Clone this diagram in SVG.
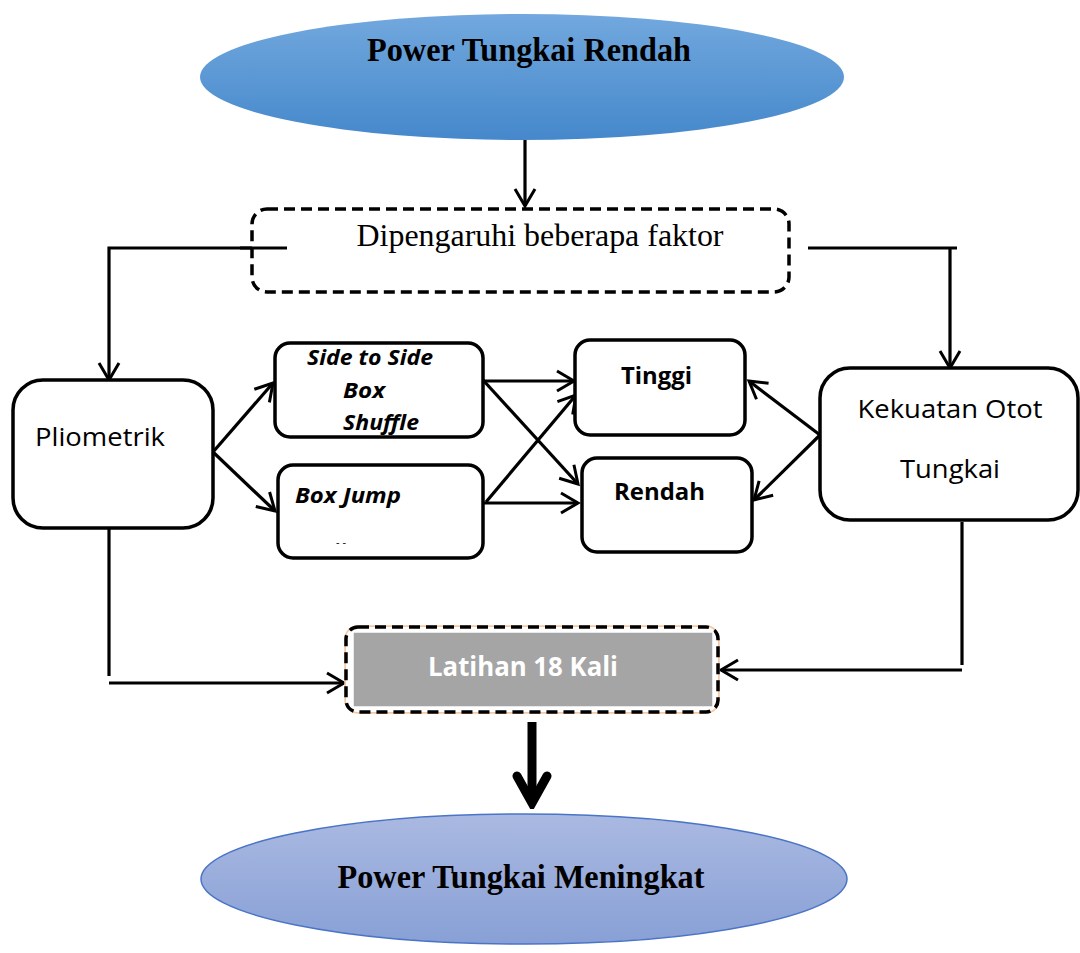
<svg xmlns="http://www.w3.org/2000/svg" width="1080" height="953" viewBox="0 0 1080 953">
<defs>
<linearGradient id="gTop" x1="0" y1="0" x2="0" y2="1">
<stop offset="0" stop-color="#72a8de"/>
<stop offset="1" stop-color="#4588cb"/>
</linearGradient>
<linearGradient id="gBot" x1="0" y1="0" x2="0" y2="1">
<stop offset="0" stop-color="#aab9e1"/>
<stop offset="1" stop-color="#88a0d6"/>
</linearGradient>
<marker id="v" viewBox="-22 -14 26 28" markerWidth="26" markerHeight="28" refX="0" refY="0" orient="auto" markerUnits="userSpaceOnUse">
<path d="M-17,-10 L0,0 L-17,10" fill="none" stroke="#000" stroke-width="3"/>
</marker>
<marker id="vt" viewBox="-40 -22 46 44" markerWidth="46" markerHeight="44" refX="0" refY="0" orient="auto" markerUnits="userSpaceOnUse">
<path d="M-27,-15 L0,0 L-27,15" fill="none" stroke="#000" stroke-width="9" stroke-linecap="round" stroke-linejoin="miter"/>
</marker>
</defs>
<style>
.box{fill:#fff;stroke:#000;stroke-width:3.5}
.dash{fill:#fff;stroke:#000;stroke-width:3.5;stroke-dasharray:11 6}
.ln{fill:none;stroke:#000;stroke-width:3.2}
.serif{font-family:"Liberation Serif","Times New Roman",serif;fill:#000}
.sans{font-family:"Open Sans","Liberation Sans",sans-serif;fill:#000}
.bi{font-weight:bold;font-style:italic;font-size:22px}
</style>

<g id="connectors">
<line class="ln" x1="525" y1="140" x2="525" y2="206" marker-end="url(#v)"/>
<polyline class="ln" points="287,248 109,248 109,380" marker-end="url(#v)"/>
<path class="ln" d="M808,248 H957 M950,248 V368" marker-end="url(#v)"/>
<line class="ln" x1="213" y1="452" x2="273" y2="383" marker-end="url(#v)"/>
<line class="ln" x1="213" y1="452" x2="275" y2="511" marker-end="url(#v)"/>
<line class="ln" x1="483" y1="381" x2="574" y2="381" marker-end="url(#v)"/>
<line class="ln" x1="483" y1="380" x2="578" y2="484" marker-end="url(#v)"/>
<line class="ln" x1="486" y1="502" x2="576" y2="395" marker-end="url(#v)"/>
<line class="ln" x1="484" y1="503" x2="578" y2="503" marker-end="url(#v)"/>
<line class="ln" x1="820" y1="435" x2="749" y2="381" marker-end="url(#v)"/>
<line class="ln" x1="820" y1="435" x2="754" y2="500" marker-end="url(#v)"/>
<line class="ln" x1="109" y1="528" x2="109" y2="676"/>
<line class="ln" x1="109" y1="683" x2="344" y2="683" marker-end="url(#v)"/>
<line class="ln" x1="962" y1="522" x2="962" y2="665"/>
<line class="ln" x1="962" y1="670" x2="721" y2="670" marker-end="url(#v)"/>
<line x1="532" y1="722" x2="532" y2="803" stroke="#000" stroke-width="9" marker-end="url(#vt)"/>
</g>

<g id="node-top">
<ellipse cx="522" cy="77" rx="322" ry="63" fill="url(#gTop)"/>
<text class="serif" x="529" y="61" font-size="33" font-weight="bold" text-anchor="middle" textLength="324" lengthAdjust="spacingAndGlyphs">Power Tungkai Rendah</text>
</g>

<g id="node-faktor">
<rect class="dash" x="252" y="209" width="537" height="83" rx="15"/>
<line class="ln" x1="240" y1="248" x2="287" y2="248"/>
<text class="serif" x="540" y="246" font-size="31" text-anchor="middle" textLength="367" lengthAdjust="spacingAndGlyphs">Dipengaruhi beberapa faktor</text>
</g>

<g id="node-pliometrik">
<rect class="box" x="13" y="380" width="200" height="148" rx="30"/>
<text class="sans" x="35" y="446" font-size="26" textLength="130" lengthAdjust="spacingAndGlyphs">Pliometrik</text>
</g>

<g id="node-side">
<rect class="box" x="275" y="343" width="208" height="94" rx="15"/>
<text class="sans bi" x="307" y="365" textLength="126" lengthAdjust="spacingAndGlyphs">Side to Side</text>
<text class="sans bi" x="343" y="398" textLength="42" lengthAdjust="spacingAndGlyphs">Box</text>
<text class="sans bi" x="343" y="430" textLength="76" lengthAdjust="spacingAndGlyphs">Shuffle</text>
</g>

<g id="node-boxjump">
<rect class="box" x="278" y="465" width="205" height="93" rx="15"/>
<text class="sans bi" x="295" y="503" textLength="106" lengthAdjust="spacingAndGlyphs">Box Jump</text>
<text class="sans" x="336" y="546" font-size="11">- -</text>
</g>

<g id="node-tinggi">
<rect class="box" x="575" y="340" width="170" height="95" rx="15"/>
<text class="sans" x="621" y="384" font-size="23" font-weight="bold" textLength="71" lengthAdjust="spacingAndGlyphs">Tinggi</text>
</g>

<g id="node-rendah">
<rect class="box" x="582" y="458" width="170" height="94" rx="15"/>
<text class="sans" x="614" y="500" font-size="23" font-weight="bold" textLength="91" lengthAdjust="spacingAndGlyphs">Rendah</text>
</g>

<g id="node-kekuatan">
<rect class="box" x="820" y="368" width="258" height="152" rx="30"/>
<text class="sans" x="950" y="418" font-size="26" text-anchor="middle" textLength="185" lengthAdjust="spacingAndGlyphs">Kekuatan Otot</text>
<text class="sans" x="950" y="478" font-size="26" text-anchor="middle" textLength="100" lengthAdjust="spacingAndGlyphs">Tungkai</text>
</g>

<g id="node-latihan">
<rect x="346" y="627" width="372" height="85" rx="12" fill="none" stroke="#f6c9a4" stroke-width="3.5"/>
<rect class="dash" x="346" y="627" width="372" height="85" rx="12"/>
<rect x="353" y="632" width="360" height="75" fill="#a5a5a5" stroke="#fff" stroke-width="1.5"/>
<text class="sans" x="523" y="676" font-size="26" font-weight="bold" style="fill:#fff" text-anchor="middle" textLength="190" lengthAdjust="spacingAndGlyphs">Latihan 18 Kali</text>
</g>

<g id="node-bottom">
<ellipse cx="524" cy="879" rx="323" ry="65" fill="url(#gBot)" stroke="#4a74c6" stroke-width="1.5"/>
<text class="serif" x="521" y="888" font-size="33" font-weight="bold" text-anchor="middle" textLength="367" lengthAdjust="spacingAndGlyphs">Power Tungkai Meningkat</text>
</g>
</svg>
